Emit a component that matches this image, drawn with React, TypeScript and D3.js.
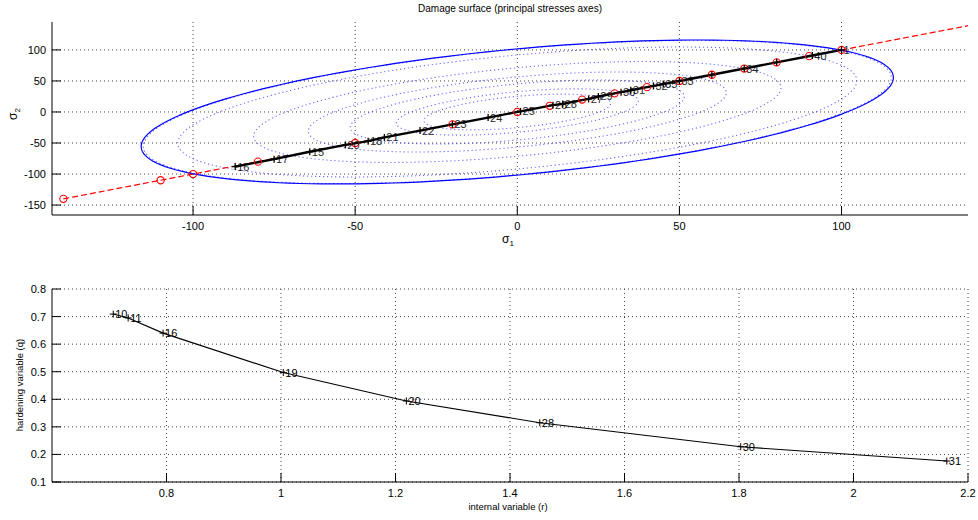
import React from "react";
import * as d3 from "d3";

// ---------- Top plot data (principal stress space) ----------
const sigmaXTicks = [-100, -50, 0, 50, 100];
const sigmaYTicks = [-150, -100, -50, 0, 50, 100];
const sigmaXDomain = [-143.5, 139];
const sigmaYDomain = [-166, 145];

// loading path (red dashed line with circles), along sigma1 = sigma2
const pathExtent = [-140, 140];
const loadSteps = [-140, -110, -100, -80, -50, -20, 0, 10, 20, 30, 40, 50, 60, 70, 80, 90, 100];

// computed states (black line with + markers and step labels)
const stateSigma1 = [-87, -75, -64, -53, -46, -41, -30, -20, -9, 1, 11, 14, 22, 25, 32, 35, 42, 45, 50, 60, 70, 80, 91, 100];
const stateSigma2 = [-88, -76, -64, -53, -47, -41, -30, -20, -9, 1, 11, 13, 21, 25, 32, 35, 42, 45, 50, 60, 70, 80, 91, 100];
const stateLabels = ["16", "17", "15", "20", "18", "21", "22", "23", "24", "25", "26", "28", "27", "29", "30", "31", "32", "35", "33", "", "34", "", "40", "1"];

// damage surface: isotropic quadratic form, coupling k and sigma1 extent
const surfaceCoupling = 0.48;
const surfaceExtent = 116;

// ---------- Bottom plot data (hardening law) ----------
const rTicks = [0.8, 1, 1.2, 1.4, 1.6, 1.8, 2, 2.2];
const qTicks = [0.1, 0.2, 0.3, 0.4, 0.5, 0.6, 0.7, 0.8];
const rDomain = [0.6, 2.2];
const qDomain = [0.1, 0.8];

const markR = [0.707, 0.733, 0.794, 1.004, 1.219, 1.452, 1.803, 2.163];
const markQ = [0.709, 0.695, 0.64, 0.497, 0.394, 0.315, 0.228, 0.176];
const markLabels = ["10", "11", "16", "19", "20", "28", "30", "31"];

// q values of the states whose surfaces are drawn dotted (scaled by q / q0)
const surfaceQ = [0.709, 0.705, 0.64, 0.497, 0.394, 0.315, 0.228, 0.176];

const FONT = "Liberation Sans, Arial, Helvetica, sans-serif";

export default function App() {
  const W = 978, H = 520;
  const top = { l: 52, r: 968, t: 22, b: 215 };
  const bot = { l: 52, r: 968, t: 289, b: 482 };

  const x1 = d3.scaleLinear().domain(sigmaXDomain).range([top.l, top.r]);
  const y1 = d3.scaleLinear().domain(sigmaYDomain).range([top.b, top.t]);
  const x2 = d3.scaleLinear().domain(rDomain).range([bot.l, bot.r]);
  const y2 = d3.scaleLinear().domain(qDomain).range([bot.b, bot.t]);

  const k = surfaceCoupling;
  const A = surfaceExtent * Math.sqrt(1 + k);
  const B = surfaceExtent * Math.sqrt(1 - k);
  const thetas = d3.range(0, 361, 2).map((d) => (d * Math.PI) / 180);
  const ellipse = (s: number) =>
    d3
      .line<number>()
      .x((t) => x1((s * A * Math.cos(t) + s * B * Math.sin(t)) / Math.SQRT2))
      .y((t) => y1((s * A * Math.cos(t) - s * B * Math.sin(t)) / Math.SQRT2))(thetas) || "";

  const q0 = surfaceQ[0];
  const dottedScales = surfaceQ.slice(1).map((q) => q / q0);

  const statePts = stateSigma1.map((s, i) => [s, stateSigma2[i]] as [number, number]);
  const stateLine =
    d3
      .line<[number, number]>()
      .x((d) => x1(d[0]))
      .y((d) => y1(d[1]))(statePts) || "";

  const curve =
    d3
      .line<number>()
      .x((_, i) => x2(markR[i]))
      .y((_, i) => y2(markQ[i]))(markR) || "";

  const grid = "#444";
  const tickLen = 9;

  const plus = (cx: number, cy: number, key: string, sw = 1.3) => (
    <g key={key} stroke="#000" strokeWidth={sw}>
      <line x1={cx - 3.5} x2={cx + 3.5} y1={cy} y2={cy} />
      <line x1={cx} x2={cx} y1={cy - 3.5} y2={cy + 3.5} />
    </g>
  );

  return (
    <svg width={W} height={H} style={{ position: "absolute", left: 0, top: 0, background: "#fff" }} fontFamily={FONT}>
      <defs>
        <clipPath id="clipTop">
          <rect x={top.l} y={top.t} width={top.r - top.l} height={top.b - top.t} />
        </clipPath>
      </defs>
      <rect width={W} height={H} fill="#fff" />

      {/* ---------------- TOP PLOT ---------------- */}
      <text x={510} y={12} fontSize={10} textAnchor="middle">
        Damage surface (principal stresses axes)
      </text>

      {sigmaXTicks.map((t) => (
        <line key={"gx" + t} x1={x1(t)} x2={x1(t)} y1={top.t} y2={top.b} stroke={grid} strokeWidth={1} strokeDasharray="1 3" />
      ))}
      {sigmaYTicks.map((t) => (
        <line key={"gy" + t} x1={top.l} x2={top.r} y1={y1(t)} y2={y1(t)} stroke={grid} strokeWidth={1} strokeDasharray="1 3" />
      ))}

      <g clipPath="url(#clipTop)">
        {dottedScales.map((s, i) => (
          <path key={"el" + i} d={ellipse(s)} fill="none" stroke="#3a3aff" strokeWidth={1.1} strokeDasharray="1.2 2.8" opacity={0.75} />
        ))}
        <path d={ellipse(1)} fill="none" stroke="#0000ff" strokeWidth={1.2} />

        <line
          x1={x1(pathExtent[0])}
          y1={y1(pathExtent[0])}
          x2={x1(pathExtent[1])}
          y2={y1(pathExtent[1])}
          stroke="#ff0000"
          strokeWidth={1.2}
          strokeDasharray="6 3"
        />
        <path d={stateLine} fill="none" stroke="#000" strokeWidth={2.4} />
        {loadSteps.map((s) => (
          <circle key={"c" + s} cx={x1(s)} cy={y1(s)} r={3.6} fill="none" stroke="#ff0000" strokeWidth={1.1} />
        ))}
        {statePts.map((p, i) => plus(x1(p[0]), y1(p[1]), "p" + i))}
        {statePts.map((p, i) => (
          <text key={"l" + i} x={x1(p[0]) + 2} y={y1(p[1]) + 4} fontSize={11} fill="#000" opacity={0.85}>
            {stateLabels[i]}
          </text>
        ))}
      </g>

      <line x1={top.l} x2={top.l} y1={top.t} y2={top.b} stroke="#000" />
      <line x1={top.l} x2={top.r} y1={top.b} y2={top.b} stroke="#000" />
      {sigmaXTicks.map((t) => (
        <g key={"tx" + t}>
          <line x1={x1(t)} x2={x1(t)} y1={top.b} y2={top.b - tickLen} stroke="#000" />
          <text x={x1(t)} y={top.b + 15} fontSize={11} textAnchor="middle">
            {t}
          </text>
        </g>
      ))}
      {sigmaYTicks.map((t) => (
        <g key={"ty" + t}>
          <line x1={top.l} x2={top.l + tickLen} y1={y1(t)} y2={y1(t)} stroke="#000" />
          <text x={top.l - 6} y={y1(t) + 4} fontSize={11} textAnchor="end">
            {t}
          </text>
        </g>
      ))}
      <text x={502} y={243} fontSize={12}>
        σ<tspan fontSize={8} dy={3}>1</tspan>
      </text>
      <text transform={`translate(17,${120}) rotate(-90)`} fontSize={12}>
        σ<tspan fontSize={8} dy={3}>2</tspan>
      </text>

      {/* ---------------- BOTTOM PLOT ---------------- */}
      {rTicks.map((t) => (
        <line key={"gr" + t} x1={x2(t)} x2={x2(t)} y1={bot.t} y2={bot.b} stroke={grid} strokeWidth={1} strokeDasharray="1 3" />
      ))}
      {qTicks.map((t) => (
        <line key={"gq" + t} x1={bot.l} x2={bot.r} y1={y2(t)} y2={y2(t)} stroke={grid} strokeWidth={1} strokeDasharray="1 3" />
      ))}
      <path d={curve} fill="none" stroke="#000" strokeWidth={1.1} />
      {markR.map((r, i) => plus(x2(r), y2(markQ[i]), "m" + i, 1))}
      {markR.map((r, i) => (
        <text key={"ml" + i} x={x2(r) + 2} y={y2(markQ[i]) + 4} fontSize={11} fill="#000">
          {markLabels[i]}
        </text>
      ))}

      <line x1={bot.l} x2={bot.l} y1={bot.t} y2={bot.b} stroke="#000" />
      <line x1={bot.l} x2={bot.r} y1={bot.b} y2={bot.b} stroke="#000" />
      {rTicks.map((t) => (
        <g key={"tr" + t}>
          <line x1={x2(t)} x2={x2(t)} y1={bot.b} y2={bot.b - tickLen} stroke="#000" />
          <text x={x2(t)} y={bot.b + 15} fontSize={11} textAnchor="middle">
            {d3.format("~g")(t)}
          </text>
        </g>
      ))}
      {qTicks.map((t) => (
        <g key={"tq" + t}>
          <line x1={bot.l} x2={bot.l + tickLen} y1={y2(t)} y2={y2(t)} stroke="#000" />
          <text x={bot.l - 6} y={y2(t) + 4} fontSize={11} textAnchor="end">
            {d3.format(".1f")(t)}
          </text>
        </g>
      ))}
      <text x={508} y={510} fontSize={9.5} textAnchor="middle">
        internal variable (r)
      </text>
      <text transform={`translate(23,${385}) rotate(-90)`} fontSize={9.5} textAnchor="middle">
        hardening variable (q)
      </text>
    </svg>
  );
}
